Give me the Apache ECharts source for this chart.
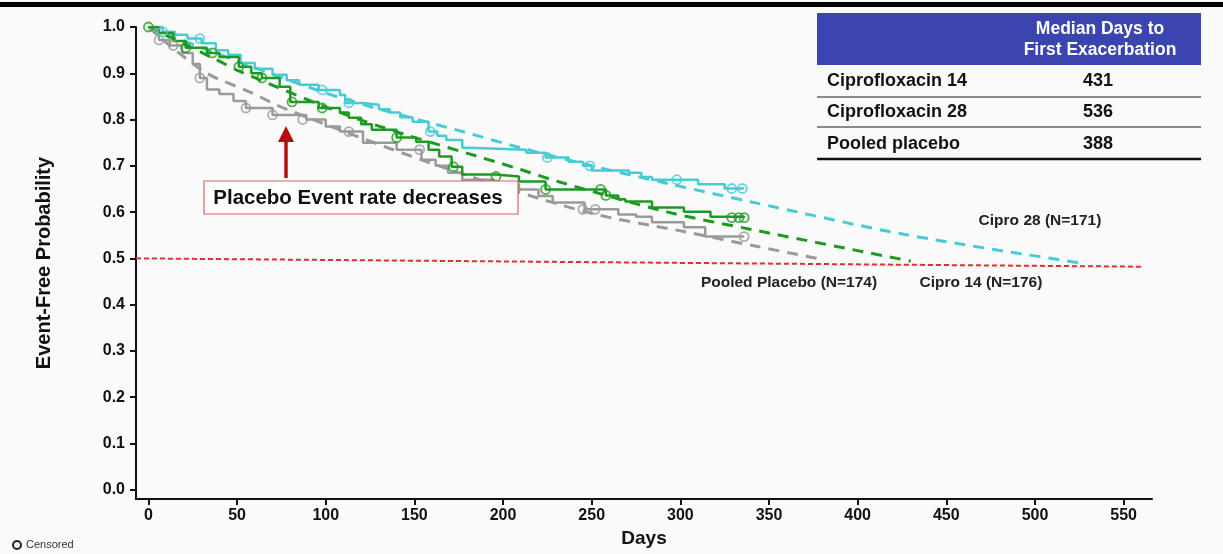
<!DOCTYPE html>
<html>
<head>
<meta charset="utf-8">
<script src="https://cdn.jsdelivr.net/npm/echarts@6/dist/echarts.min.js"></script>
<style>
html,body{margin:0;padding:0;background:#fafafa;}
#chart{width:1223px;height:554px;}
</style>
</head>
<body>
<div id="chart"></div>
<script>
// ---- data ----
const xTicks = [0, 50, 100, 150, 200, 250, 300, 350, 400, 450, 500, 550];
const yTicks = [0, 0.1, 0.2, 0.3, 0.4, 0.5, 0.6, 0.7, 0.8, 0.9, 1.0];

const cipro28KM = [[0,1.0],[8,0.99],[15,0.983],[22,0.975],[30,0.965],[38,0.95],[45,0.94],[52,0.922],[60,0.91],[70,0.897],[78,0.885],[85,0.875],[96,0.864],[108,0.853],[111,0.836],[121,0.832],[130,0.822],[136,0.815],[142,0.805],[149,0.795],[158,0.774],[163,0.765],[168,0.756],[177,0.739],[181,0.735],[213,0.728],[224,0.718],[237,0.709],[245,0.70],[250,0.69],[271,0.685],[278,0.676],[284,0.67],[310,0.66],[325,0.651],[336,0.651]];
const cipro14KM = [[0,1.0],[6,0.987],[14,0.97],[21,0.955],[33,0.944],[40,0.935],[51,0.914],[58,0.90],[64,0.89],[74,0.871],[80,0.838],[96,0.825],[108,0.815],[113,0.804],[120,0.79],[126,0.778],[140,0.761],[151,0.752],[158,0.735],[164,0.72],[171,0.698],[177,0.681],[196,0.677],[209,0.666],[224,0.649],[258,0.636],[265,0.628],[269,0.623],[284,0.61],[302,0.601],[317,0.59],[336,0.588]];
const placeboKM = [[0,1.0],[4,0.985],[6,0.972],[12,0.96],[19,0.944],[25,0.92],[29,0.89],[33,0.865],[40,0.855],[48,0.84],[55,0.825],[70,0.81],[89,0.80],[100,0.785],[108,0.774],[121,0.75],[140,0.735],[154,0.713],[162,0.70],[169,0.685],[177,0.67],[195,0.66],[209,0.649],[220,0.635],[228,0.621],[246,0.606],[265,0.595],[275,0.59],[284,0.578],[302,0.567],[314,0.547],[336,0.547]];

const cipro28Fit = [[0,1.0],[60,0.912],[110,0.845],[179,0.772],[210,0.739],[250,0.70],[295,0.66],[340,0.622],[426,0.552],[529,0.488]];
const cipro14Fit = [[0,1.0],[38,0.93],[51,0.905],[119,0.80],[210,0.692],[231,0.666],[293,0.60],[340,0.5625],[430,0.494]];
const placeboFit = [[0,1.0],[12,0.96],[33,0.9],[57,0.86],[78,0.822],[160,0.705],[246,0.601],[302,0.558],[343,0.526],[381,0.497]];

const cipro28Censored = [[8,0.99],[29,0.975],[98,0.864],[113,0.836],[159,0.774],[225,0.718],[249,0.70],[298,0.67],[329,0.651],[335,0.651]];
const cipro14Censored = [[0,1.0],[21,0.955],[36,0.944],[51,0.914],[64,0.89],[81,0.838],[98,0.825],[140,0.761],[172,0.698],[196,0.677],[224,0.649],[255,0.649],[258,0.636],[329,0.588],[333,0.588],[336,0.588]];
const placeboCensored = [[6,0.972],[14,0.96],[29,0.89],[55,0.825],[70,0.81],[87,0.80],[113,0.774],[153,0.735],[245,0.606],[252,0.606],[336,0.547]];

const medianRefLine = [[-7,0.5],[560,0.482]];

const tableHeader = ['Median Days to', 'First Exacerbation'];
const tableRows = ['Ciprofloxacin 14', 'Ciprofloxacin 28', 'Pooled placebo'];
const tableValues = ['431', '536', '388'];

const curveLabels = ['Cipro 28 (N=171)', 'Pooled Placebo (N=174)', 'Cipro 14 (N=176)'];

// ---- styles ----
const CYAN = '#48cbd5', GREEN = '#1e9a22', GRAY = '#9a9a9a';
const FONT = 'Liberation Sans, Arial, sans-serif';

const chart = echarts.init(document.getElementById('chart'), null, {renderer: 'canvas'});

function km(name, data, color) {
  return {name, type: 'line', step: 'end', data, symbol: 'none', z: 3,
    lineStyle: {color, width: 2.5}, animation: false};
}
function fit(name, data, color) {
  return {name, type: 'line', data, symbol: 'none', smooth: 0.3, z: 2,
    lineStyle: {color, width: 3, type: [11, 8]}, animation: false};
}
function cens(name, data, color) {
  return {name, type: 'scatter', data, symbol: 'circle', symbolSize: 9, z: 4,
    itemStyle: {color: 'rgba(255,255,255,0)', borderColor: color, borderWidth: 1.8}, animation: false};
}

const tableX = 817, tableW = 384;
const graphics = [
  {type: 'rect', shape: {x: 0, y: 2, width: 1223, height: 5}, style: {fill: '#000'}},
  // table
  {type: 'rect', shape: {x: tableX, y: 13, width: tableW, height: 52}, style: {fill: '#3a45b0'}},
  {type: 'text', style: {text: tableHeader[0], x: 1100, y: 29, align: 'center', verticalAlign: 'middle', fill: '#fff', font: 'bold 17.5px ' + FONT}},
  {type: 'text', style: {text: tableHeader[1], x: 1100, y: 50, align: 'center', verticalAlign: 'middle', fill: '#fff', font: 'bold 17.5px ' + FONT}},
  {type: 'line', shape: {x1: tableX, y1: 97, x2: tableX + tableW, y2: 97}, style: {stroke: '#8a8a8a', lineWidth: 2}},
  {type: 'line', shape: {x1: tableX, y1: 127, x2: tableX + tableW, y2: 127}, style: {stroke: '#8a8a8a', lineWidth: 2}},
  {type: 'line', shape: {x1: tableX, y1: 159, x2: tableX + tableW, y2: 159}, style: {stroke: '#111', lineWidth: 2.5}},
  // censored legend
  {type: 'circle', shape: {cx: 17, cy: 545, r: 4}, style: {fill: 'none', stroke: '#222', lineWidth: 2}},
  {type: 'text', style: {text: 'Censored', x: 26, y: 545, verticalAlign: 'middle', fill: '#333', font: '11px ' + FONT}},
  // curve labels
  {type: 'text', style: {text: curveLabels[0], x: 1040, y: 221, align: 'center', verticalAlign: 'middle', fill: '#222', font: 'bold 15.5px ' + FONT}},
  {type: 'text', style: {text: curveLabels[1], x: 789, y: 283, align: 'center', verticalAlign: 'middle', fill: '#222', font: 'bold 15.5px ' + FONT}},
  {type: 'text', style: {text: curveLabels[2], x: 981, y: 283, align: 'center', verticalAlign: 'middle', fill: '#222', font: 'bold 15.5px ' + FONT}},
  // annotation
  {type: 'rect', shape: {x: 204, y: 181, width: 314, height: 33}, style: {fill: '#fff', stroke: '#d96060', lineWidth: 1.2}, z: 10},
  {type: 'text', style: {text: 'Placebo Event rate decreases', x: 358, y: 198, align: 'center', verticalAlign: 'middle', fill: '#111', font: 'bold 20.5px ' + FONT}, z: 11},
  {type: 'line', shape: {x1: 286, y1: 178, x2: 286, y2: 138}, style: {stroke: '#b01010', lineWidth: 3.5}, z: 10},
  {type: 'polygon', shape: {points: [[286, 126], [278, 142], [294, 142]]}, style: {fill: '#b01010'}, z: 10}
];
tableRows.forEach((r, i) => {
  const y = [81, 112, 144][i];
  graphics.push({type: 'text', style: {text: r, x: 827, y, verticalAlign: 'middle', fill: '#111', font: 'bold 18px ' + FONT}});
  graphics.push({type: 'text', style: {text: tableValues[i], x: 1098, y, align: 'center', verticalAlign: 'middle', fill: '#111', font: 'bold 18px ' + FONT}});
});

const option = {
  backgroundColor: '#fafafa',
  animation: false,
  grid: {left: 136, right: 71, top: 27, bottom: 55, containLabel: false},
  xAxis: {
    type: 'value', min: -7, max: 566,
    name: 'Days', nameLocation: 'middle', nameGap: 25,
    nameTextStyle: {fontFamily: FONT, fontWeight: 'bold', fontSize: 19, color: '#111'},
    axisLine: {onZero: false, lineStyle: {color: '#111', width: 2}},
    axisTick: {show: true, length: 6, lineStyle: {color: '#111', width: 2}, customValues: xTicks},
    axisLabel: {customValues: xTicks, fontFamily: FONT, fontWeight: 'bold', fontSize: 16, color: '#111', margin: 9},
    splitLine: {show: false}
  },
  yAxis: {
    type: 'value', min: -0.02, max: 1.0,
    name: 'Event-Free Probability', nameLocation: 'middle', nameGap: 82, nameRotate: 90,
    nameTextStyle: {fontFamily: FONT, fontWeight: 'bold', fontSize: 20, color: '#111'},
    axisLine: {show: true, onZero: false, lineStyle: {color: '#111', width: 2}},
    axisTick: {show: true, length: 6, lineStyle: {color: '#111', width: 2}, customValues: yTicks},
    axisLabel: {customValues: yTicks, formatter: v => v.toFixed(1), fontFamily: FONT, fontWeight: 'bold', fontSize: 16, color: '#111', margin: 11},
    splitLine: {show: false}
  },
  series: [
    {name: 'median', type: 'line', data: medianRefLine, symbol: 'none', z: 1,
      lineStyle: {color: '#e0302e', width: 2, type: [5, 3]}},
    fit('Cipro 28 fit', cipro28Fit, CYAN),
    fit('Cipro 14 fit', cipro14Fit, GREEN),
    fit('Placebo fit', placeboFit, GRAY),
    km('Placebo', placeboKM, GRAY),
    km('Cipro 28', cipro28KM, CYAN),
    km('Cipro 14', cipro14KM, GREEN),
    cens('Placebo censored', placeboCensored, GRAY),
    cens('Cipro 28 censored', cipro28Censored, CYAN),
    cens('Cipro 14 censored', cipro14Censored, GREEN)
  ],
  graphic: graphics
};
chart.setOption(option);
</script>
</body>
</html>
